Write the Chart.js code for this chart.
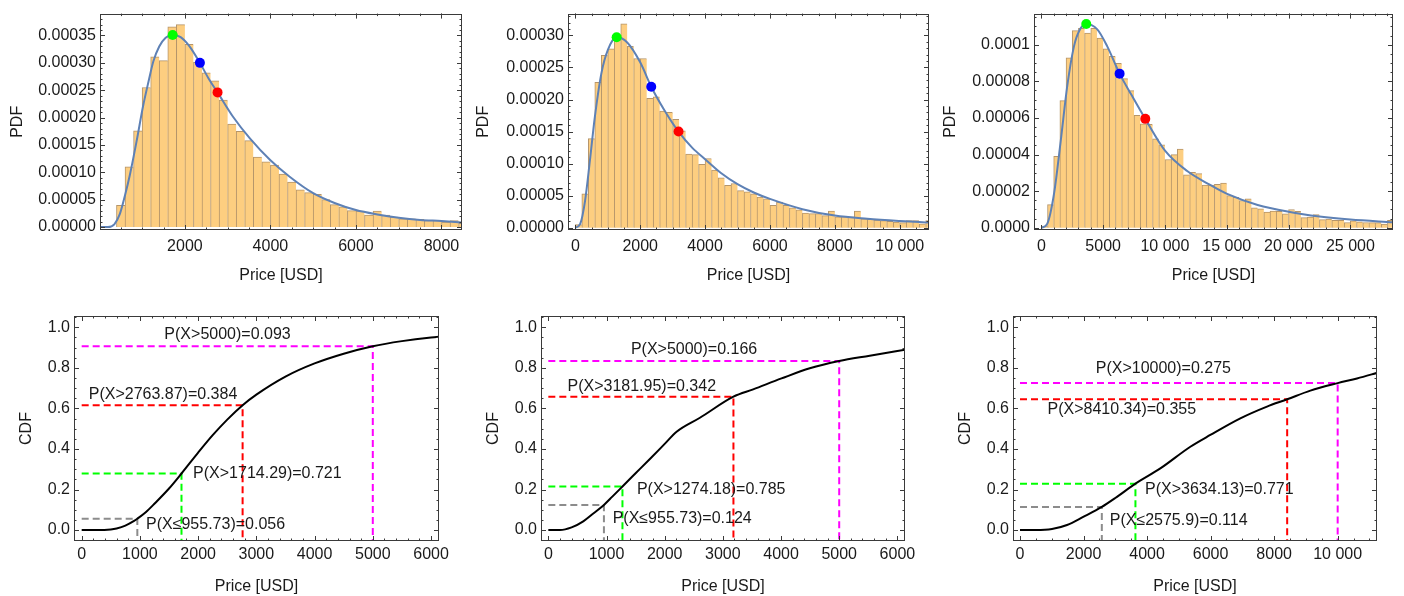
<!DOCTYPE html>
<html lang="en">
<head>
<meta charset="UTF-8">
<title>Price distributions: PDF and CDF</title>
<script src="https://cdn.jsdelivr.net/npm/chart.js"></script>
<style>
    body {
        margin: 0;
        background: #fff;
        width: 1404px;
        height: 596px;
        overflow: hidden;
        position: relative;
    }
    .panel { position: absolute; width: 470px; }
    .top { top: 0; height: 292px; }
    .bottom { top: 300px; height: 296px; }
</style>
</head>
<body>
<div class="panel top" style="left:0px"><canvas id="pdf1"></canvas></div>
<div class="panel top" style="left:470px"><canvas id="pdf2"></canvas></div>
<div class="panel top" style="left:934px"><canvas id="pdf3"></canvas></div>
<div class="panel bottom" style="left:0px"><canvas id="cdf1"></canvas></div>
<div class="panel bottom" style="left:470px"><canvas id="cdf2"></canvas></div>
<div class="panel bottom" style="left:934px"><canvas id="cdf3"></canvas></div>

<script>
// ---------- data ----------

// histogram 1: bins of 200 USD starting at 400
const hist1Start = 400, hist1Width = 200;
const hist1Heights = [0.0000396, 0.000110, 0.000176, 0.000255, 0.000311, 0.000304, 0.000366, 0.000370,
    0.000334, 0.000301, 0.000282, 0.000267, 0.000232, 0.000188, 0.000175, 0.000158, 0.000128, 0.000119,
    0.000113, 0.000097, 0.000082, 0.000068, 0.000063, 0.000060, 0.000050, 0.000041, 0.000037, 0.000030,
    0.000029, 0.000022, 0.000029, 0.000022, 0.000018, 0.000015, 0.000015, 0.000014, 0.000012, 0.000012,
    0.000009, 0.000012, 0.000007];
const fit1X = [0, 200, 350, 480, 600, 713, 869, 1025, 1150, 1263, 1400, 1550, 1714.29, 1900, 2100, 2351,
    2550, 2763.87, 3130, 3520, 4000, 4450, 5000, 5500, 6000, 6500, 7000, 7500, 8000, 8480];
const fit1Y = [0, 0, 0.000005, 0.000024, 0.000058, 0.000095, 0.000156, 0.000222, 0.000266, 0.000303,
    0.000330, 0.000346, 0.000351, 0.000347, 0.000331, 0.000300, 0.000272, 0.000246, 0.000201, 0.000162,
    0.000122, 0.000092, 0.000062, 0.000044, 0.000031, 0.000023, 0.000017, 0.000013, 0.000011, 0.0000085];
const marks1X = [1714.29, 2351, 2763.87];
const marks1Y = [0.000351, 0.000300, 0.000246];

// histogram 2: bins of 200 USD starting at 0
const hist2Start = 0, hist2Width = 200;
const hist2Heights = [0.000005, 0.000053, 0.000139, 0.000227, 0.000269, 0.000279, 0.000293, 0.000318,
    0.000283, 0.000264, 0.000264, 0.000202, 0.000204, 0.000182, 0.000180, 0.000169, 0.000151, 0.000115,
    0.000114, 0.000099, 0.000108, 0.000090, 0.000078, 0.000066, 0.000069, 0.000058, 0.000056, 0.000053,
    0.000048, 0.000045, 0.000035, 0.000040, 0.000035, 0.000031, 0.000028, 0.000023, 0.000022, 0.000022,
    0.000019, 0.000026, 0.000017, 0.000017, 0.000017, 0.000026, 0.000014, 0.000013, 0.000012, 0.000011,
    0.000010, 0.000009, 0.000008, 0.000011, 0.000011, 0.000006, 0.000011];
const fit2X = [0, 150, 300, 450, 600, 800, 1000, 1274.18, 1600, 2000, 2340, 2750, 3181.95, 3600, 4000,
    4500, 5000, 5500, 6000, 7000, 8000, 9000, 10000, 10900];
const fit2Y = [0, 0.000006, 0.000042, 0.000105, 0.000172, 0.000240, 0.000277, 0.000297, 0.000289, 0.000258,
    0.000220, 0.000183, 0.000150, 0.000125, 0.000107, 0.000085, 0.000068, 0.000055, 0.000045, 0.000029,
    0.000019, 0.000014, 0.0000105, 0.000008];
const marks2X = [1274.18, 2340, 3181.95];
const marks2Y = [0.000297, 0.000220, 0.000150];

// histogram 3: bins of 500 USD starting at 0
const hist3Start = 0, hist3Width = 500;
const hist3Heights = [0.000001, 0.0000127, 0.000039, 0.0000695, 0.0000928, 0.0001077, 0.000109, 0.0001063,
    0.000109, 0.0001036, 0.0000977, 0.0000937, 0.0000898, 0.0000815, 0.0000749, 0.0000615, 0.0000568,
    0.0000565, 0.0000486, 0.0000453, 0.0000373, 0.000040, 0.000043, 0.0000289, 0.0000303, 0.0000296,
    0.0000233, 0.0000233, 0.0000238, 0.0000244, 0.0000176, 0.0000167, 0.0000149, 0.0000158, 0.0000109,
    0.0000104, 0.0000086, 0.0000091, 0.000009, 0.0000077, 0.00001, 0.000009, 0.0000056, 0.0000059,
    0.0000072, 0.0000045, 0.0000047, 0.0000041, 0.0000041, 0.0000029, 0.0000038, 0.0000032, 0.0000029,
    0.0000028, 0.0000028, 0.000002, 0.0000041];
const fit3X = [0, 485, 1024, 1563, 2101, 2640, 3100, 3634.13, 4526, 5334, 6331, 7300, 8410.34, 10022,
    11800, 13500, 15032, 17500, 19989, 22500, 25000, 28448];
const fit3Y = [0, 0.0000023, 0.0000185, 0.0000471, 0.0000776, 0.0000991, 0.000108, 0.0001113, 0.0001084,
    0.0000991, 0.0000842, 0.0000725, 0.0000595, 0.000042, 0.000031, 0.000024, 0.0000185, 0.0000125,
    0.0000088, 0.0000062, 0.0000045, 0.000003];
const marks3X = [3634.13, 6331, 8410.34];
const marks3Y = [0.0001113, 0.0000842, 0.0000595];

// empirical CDFs
const cdf1X = [0, 250, 500, 600, 750, 900, 955.73, 1100, 1250, 1500, 1714.29, 2000, 2250, 2500, 2763.87,
    3000, 3500, 4000, 4500, 5000, 5500, 6000, 6200];
const cdf1Y = [0, 0, 0.003, 0.008, 0.022, 0.045, 0.056, 0.088, 0.130, 0.205, 0.279, 0.382, 0.468, 0.545,
    0.616, 0.668, 0.757, 0.822, 0.870, 0.907, 0.932, 0.950, 0.955];
const cdf2X = [0, 200, 400, 600, 773, 955.73, 1100, 1274.18, 1500, 1750, 2000, 2205, 2606, 3181.95, 3521,
    4008, 4494, 5000, 5525, 6200];
const cdf2Y = [0, 0, 0.013, 0.043, 0.082, 0.124, 0.165, 0.215, 0.280, 0.352, 0.425, 0.485, 0.554, 0.658,
    0.694, 0.748, 0.798, 0.834, 0.860, 0.893];
const cdf3X = [0, 500, 1007, 1480, 2004, 2575.9, 3000, 3634.13, 4418, 5362, 5992, 6936, 7775, 8410.34,
    9140, 10000, 10609, 11300];
const cdf3Y = [0, 0, 0.005, 0.025, 0.066, 0.114, 0.158, 0.229, 0.304, 0.411, 0.469, 0.551, 0.609, 0.645,
    0.688, 0.725, 0.748, 0.778];

// thresholds and their CDF values (gray, green, red, magenta)
const ref1X = [955.73, 1714.29, 2763.87, 5000];
const ref1P = [0.056, 0.279, 0.616, 0.907];
const ref2X = [955.73, 1274.18, 3181.95, 5000];
const ref2P = [0.124, 0.215, 0.658, 0.834];
const ref3X = [2575.9, 3634.13, 8410.34, 10000];
const ref3P = [0.114, 0.229, 0.645, 0.725];

const notes1 = ['P(X≤955.73)=0.056', 'P(X>1714.29)=0.721', 'P(X>2763.87)=0.384', 'P(X>5000)=0.093'];
const notes2 = ['P(X≤955.73)=0.124', 'P(X>1274.18)=0.785', 'P(X>3181.95)=0.342', 'P(X>5000)=0.166'];
const notes3 = ['P(X≤2575.9)=0.114', 'P(X>3634.13)=0.771', 'P(X>8410.34)=0.355', 'P(X>10000)=0.275'];

// tick values and labels
const pdf1XTicks = [2000, 4000, 6000, 8000];
const pdf1XLabels = ['2000', '4000', '6000', '8000'];
const pdf1YTicks = [0, 0.00005, 0.0001, 0.00015, 0.0002, 0.00025, 0.0003, 0.00035];
const pdf1YLabels = ['0.00000', '0.00005', '0.00010', '0.00015', '0.00020', '0.00025', '0.00030', '0.00035'];
const pdf2XTicks = [0, 2000, 4000, 6000, 8000, 10000];
const pdf2XLabels = ['0', '2000', '4000', '6000', '8000', '10 000'];
const pdf2YTicks = [0, 0.00005, 0.0001, 0.00015, 0.0002, 0.00025, 0.0003];
const pdf2YLabels = ['0.00000', '0.00005', '0.00010', '0.00015', '0.00020', '0.00025', '0.00030'];
const pdf3XTicks = [0, 5000, 10000, 15000, 20000, 25000];
const pdf3XLabels = ['0', '5000', '10 000', '15 000', '20 000', '25 000'];
const pdf3YTicks = [0, 0.00002, 0.00004, 0.00006, 0.00008, 0.0001];
const pdf3YLabels = ['0.0000', '0.00002', '0.00004', '0.00006', '0.00008', '0.0001'];
const cdfYTicks = [0, 0.2, 0.4, 0.6, 0.8, 1.0];
const cdfYLabels = ['0.0', '0.2', '0.4', '0.6', '0.8', '1.0'];
const cdfXTicks = [0, 1000, 2000, 3000, 4000, 5000, 6000];
const cdfXLabels = ['0', '1000', '2000', '3000', '4000', '5000', '6000'];
const cdf3XTicks = [0, 2000, 4000, 6000, 8000, 10000];
const cdf3XLabels = ['0', '2000', '4000', '6000', '8000', '10 000'];

// ---------- styling ----------
const FONT = { family: '"Liberation Sans", Arial, sans-serif', size: 16 };
const INK = '#1a1a1a';
const binFill = '#fdce80', binEdge = '#b5956a', fitColor = '#5e81b5';
const markColors = ['#00ff00', '#0000ff', '#ff0000'];
const refColors = ['#8c8c8c', '#00ff00', '#ff0000', '#ff00ff'];

// Mathematica style frame: box with inward ticks on all four sides, plus text notes
const framePlugin = {
    id: 'frame',
    afterDatasetsDraw(chart, args, o) {
        const { ctx, chartArea: a } = chart;
        const xs = chart.scales.x, ys = chart.scales.y;
        ctx.save();
        ctx.strokeStyle = '#3a3a3a';
        ctx.lineWidth = 1;
        ctx.beginPath();
        const tick = (s, v, len) => {
            const p = Math.round(s.getPixelForValue(v)) + 0.5;
            if (s.isHorizontal()) {
                if (p < a.left || p > a.right) return;
                ctx.moveTo(p, a.bottom); ctx.lineTo(p, a.bottom - len);
                ctx.moveTo(p, a.top); ctx.lineTo(p, a.top + len);
            } else {
                if (p < a.top || p > a.bottom) return;
                ctx.moveTo(a.left, p); ctx.lineTo(a.left + len, p);
                ctx.moveTo(a.right, p); ctx.lineTo(a.right - len, p);
            }
        };
        [[xs, o.minorX], [ys, o.minorY]].forEach(([s, step]) => {
            s.ticks.forEach(t => tick(s, t.value, 5));
            for (let k = Math.ceil(s.min / step); k * step <= s.max; k++) tick(s, k * step, 2.5);
        });
        ctx.stroke();
        ctx.strokeRect(Math.round(a.left) + 0.5, Math.round(a.top) + 0.5,
            Math.round(a.width) - 1, Math.round(a.height) - 1);

        ctx.fillStyle = INK;
        ctx.font = FONT.size + 'px ' + FONT.family;
        ctx.textAlign = 'center';
        ctx.textBaseline = 'middle';
        (o.notes || []).forEach(n => {
            ctx.fillText(n.text, xs.getPixelForValue(n.x), ys.getPixelForValue(n.y));
        });
        ctx.restore();
    }
};
Chart.register(framePlugin);

function axis(horizontal, v) {
    const ticks = horizontal ? v.xTicks : v.yTicks;
    const labels = horizontal ? v.xLabels : v.yLabels;
    return {
        type: 'linear',
        position: horizontal ? 'bottom' : 'left',
        min: horizontal ? v.xMin : v.yMin,
        max: horizontal ? v.xMax : v.yMax,
        offset: false,
        grid: { display: false, drawTicks: false },
        border: { display: false },
        afterBuildTicks: s => { s.ticks = ticks.map(t => ({ value: t })); },
        afterFit: s => {
            if (horizontal) s.height = v.xBox; else s.width = v.yBox;
        },
        ticks: {
            font: FONT, color: INK, autoSkip: false, maxRotation: 0,
            padding: horizontal ? v.xTickPad : v.yTickPad,
            callback: (val, i) => labels[i]
        },
        title: {
            display: true, font: FONT, color: INK,
            text: horizontal ? 'Price [USD]' : v.yTitle,
            padding: horizontal ? { top: 0, bottom: v.xTitlePad } : { top: v.yTitlePad, bottom: 0 }
        }
    };
}

function baseOptions(v) {
    return {
        responsive: true,
        maintainAspectRatio: false,
        animation: false,
        layout: { padding: { top: v.padTop, right: v.padRight, left: 0, bottom: 0 } },
        plugins: {
            legend: { display: false },
            tooltip: { enabled: false },
            frame: { minorX: v.minorX, minorY: v.minorY, notes: v.notes || [] }
        },
        scales: { x: axis(true, v), y: axis(false, v) }
    };
}

const toPoints = (xs, ys) => xs.map((x, i) => ({ x: x, y: ys[i] }));

function pdfChart(id, start, width, heights, fitX, fitY, markX, markY, v) {
    const bins = heights.map((h, i) => ({ x: start + (i + 0.5) * width, y: h }));
    return new Chart(document.getElementById(id), {
        type: 'bar',
        data: {
            datasets: [{
                type: 'line', order: 0,
                data: toPoints(markX, markY),
                showLine: false,
                pointRadius: 5,
                pointBackgroundColor: markColors,
                pointBorderWidth: 0
            }, {
                type: 'line', order: 1,
                data: toPoints(fitX, fitY),
                borderColor: fitColor,
                borderWidth: 2,
                pointRadius: 0,
                cubicInterpolationMode: 'monotone'
            }, {
                type: 'bar', order: 2,
                data: bins,
                backgroundColor: binFill,
                borderColor: binEdge,
                borderWidth: { top: 1, left: 1, right: 0, bottom: 0 },
                borderSkipped: false,
                categoryPercentage: 1,
                barPercentage: 1
            }]
        },
        options: baseOptions(v)
    });
}

function cdfChart(id, xs, ys, refX, refP, v) {
    const sets = [{
        order: 0,
        data: toPoints(xs, ys),
        borderColor: '#000',
        borderWidth: 2,
        pointRadius: 0,
        cubicInterpolationMode: 'monotone'
    }];
    refX.forEach((t, i) => {
        sets.push({
            order: 1,
            data: [{ x: 0, y: refP[i] }, { x: t, y: refP[i] }, { x: t, y: v.yMin }],
            borderColor: refColors[i],
            borderWidth: 2,
            borderDash: [7, 4],
            pointRadius: 0,
            tension: 0
        });
    });
    return new Chart(document.getElementById(id), {
        type: 'line',
        data: { datasets: sets },
        options: baseOptions(v)
    });
}

const notesAt = (texts, pos) => texts.map((t, i) => ({ text: t, x: pos[i][0], y: pos[i][1] }));

// ---------- panels ----------
pdfChart('pdf1', hist1Start, hist1Width, hist1Heights, fit1X, fit1Y, marks1X, marks1Y, {
    xMin: 15, xMax: 8480, yMin: -0.0000054, yMax: 0.00039,
    xTicks: pdf1XTicks, xLabels: pdf1XLabels, yTicks: pdf1YTicks, yLabels: pdf1YLabels,
    yTitle: 'PDF', yBox: 100, xBox: 62, padTop: 10, padRight: 8,
    yTitlePad: 8, xTitlePad: 7, yTickPad: 4, xTickPad: 7, minorX: 500, minorY: 0.00001
});
pdfChart('pdf2', hist2Start, hist2Width, hist2Heights, fit2X, fit2Y, marks2X, marks2Y, {
    xMin: -226, xMax: 10903, yMin: -0.0000035, yMax: 0.000334,
    xTicks: pdf2XTicks, xLabels: pdf2XLabels, yTicks: pdf2YTicks, yLabels: pdf2YLabels,
    yTitle: 'PDF', yBox: 98, xBox: 62, padTop: 10, padRight: 11,
    yTitlePad: 4, xTitlePad: 7, yTickPad: 4, xTickPad: 7, minorX: 500, minorY: 0.00001
});
pdfChart('pdf3', hist3Start, hist3Width, hist3Heights, fit3X, fit3Y, marks3X, marks3Y, {
    xMin: -593, xMax: 28450, yMin: -0.0000012, yMax: 0.000117,
    xTicks: pdf3XTicks, xLabels: pdf3XLabels, yTicks: pdf3YTicks, yLabels: pdf3YLabels,
    yTitle: 'PDF', yBox: 100, xBox: 62, padTop: 10, padRight: 11,
    yTitlePad: 7, xTitlePad: 7, yTickPad: 4, xTickPad: 7, minorX: 1000, minorY: 0.000005
});

cdfChart('cdf1', cdf1X, cdf1Y, ref1X, ref1P, {
    xMin: -132, xMax: 6137, yMin: -0.054, yMax: 1.056,
    xTicks: cdfXTicks, xLabels: cdfXLabels, yTicks: cdfYTicks, yLabels: cdfYLabels,
    yTitle: 'CDF', yBox: 74, xBox: 55, padTop: 16, padRight: 31,
    yTitlePad: 17, xTitlePad: 0, yTickPad: 4, xTickPad: 4, minorX: 200, minorY: 0.05,
    notes: notesAt(notes1, [[2299, 0.028], [3189, 0.280], [1397, 0.669], [2505, 0.962]])
});
cdfChart('cdf2', cdf2X, cdf2Y, ref2X, ref2P, {
    xMin: -126, xMax: 6131, yMin: -0.054, yMax: 1.056,
    xTicks: cdfXTicks, xLabels: cdfXLabels, yTicks: cdfYTicks, yLabels: cdfYLabels,
    yTitle: 'CDF', yBox: 71, xBox: 55, padTop: 16, padRight: 35,
    yTitlePad: 14, xTitlePad: 0, yTickPad: 4, xTickPad: 4, minorX: 200, minorY: 0.05,
    notes: notesAt(notes2, [[2301, 0.058], [2800, 0.201], [1606, 0.707], [2505, 0.888]])
});
cdfChart('cdf3', cdf3X, cdf3Y, ref3X, ref3P, {
    xMin: -220, xMax: 11238, yMin: -0.054, yMax: 1.056,
    xTicks: cdf3XTicks, xLabels: cdf3XLabels, yTicks: cdfYTicks, yLabels: cdfYLabels,
    yTitle: 'CDF', yBox: 79, xBox: 55, padTop: 16, padRight: 27,
    yTitlePad: 22, xTitlePad: 0, yTickPad: 4, xTickPad: 4, minorX: 500, minorY: 0.05,
    notes: notesAt(notes3, [[4995, 0.049], [6275, 0.201], [3206, 0.592], [4512, 0.798]])
});
</script>
</body>
</html>
